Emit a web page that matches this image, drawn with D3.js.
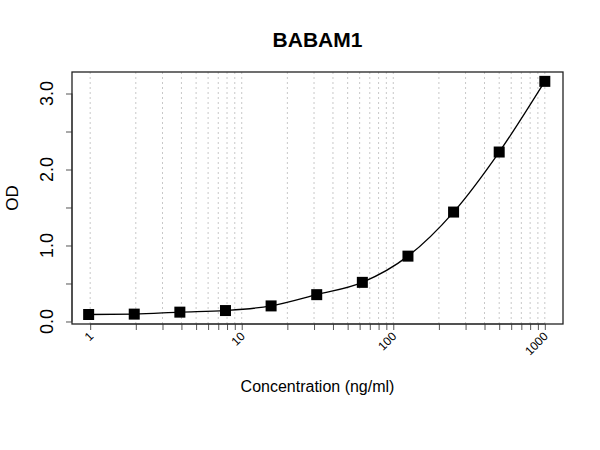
<!DOCTYPE html>
<html lang='en'>
  <head>
    <style type='text/css'>
      body {margin: 0; background-color: #fff;}
      svg text {font-family: 'Liberation Sans', Arial, sans-serif;}
    </style>
  </head>
  <body>
    <svg id='chart' width='600' height='450'></svg>

    <script src='https://d3js.org/d3.v7.min.js'></script>
    <script type='text/javascript'>
        // Standard curve data
        var concentrations = [0.977, 1.953, 3.906, 7.8125, 15.625, 31.25, 62.5, 125, 250, 500, 1000];
        var odValues      = [0.092, 0.097, 0.123, 0.144, 0.205, 0.353, 0.515, 0.86, 1.44, 2.23, 3.16];
        var xLabelTicks   = [1, 10, 100, 1000];
        var yTicks        = [0, 0.5, 1, 1.5, 2, 2.5, 3];
        var yLabelTicks   = [0, 1, 2, 3];

        var svg = d3.select("#chart");
        var margin = {top: 72, right: 37, bottom: 126, left: 72};
        var width  = 600 - margin.left - margin.right;
        var height = 450 - margin.top - margin.bottom;

        var g = svg.append("g")
            .attr("transform", "translate(" + margin.left + "," + margin.top + ")");

        // log x scale, padded like R does (4% each side)
        var x = d3.scaleLog().domain([Math.pow(10, -0.12), Math.pow(10, 3.12)]).range([0, width]);
        var y = d3.scaleLinear().domain([-0.033, 3.283]).range([height, 0]);

        // minor ticks 1..9 per decade
        var minor = [];
        [1, 10, 100, 1000].forEach(function(d) {
          for (var i = 1; i <= 9; i++) {
            if (d * i <= 1000) minor.push(d * i);
          }
        });

        // vertical dotted grid
        g.selectAll(".grid")
          .data(minor)
          .enter().append("line")
            .attr("class", "grid")
            .attr("x1", function(d) { return x(d); })
            .attr("x2", function(d) { return x(d); })
            .attr("y1", 0)
            .attr("y2", height)
            .attr("stroke", "#c8c8c8")
            .attr("stroke-width", 1)
            .attr("stroke-dasharray", "2,3");

        // bottom axis
        var xAxis = g.append("g")
            .attr("transform", "translate(0," + height + ")")
            .call(d3.axisBottom(x).tickValues(minor).tickSize(6).tickFormat(""));
        xAxis.select(".domain").attr("d", "M" + x(1) + ",0H" + x(1000)).attr("stroke", "#555");
        xAxis.selectAll(".tick line").attr("stroke", "#555");

        g.selectAll(".xlab")
          .data(xLabelTicks)
          .enter().append("text")
            .attr("class", "xlab")
            .attr("transform", function(d) { return "translate(" + (x(d) + 4) + "," + (height + 13) + ") rotate(-45)"; })
            .attr("text-anchor", "end")
            .attr("font-size", 12)
            .text(function(d) { return d; });

        // left axis
        var yAxis = g.append("g")
            .call(d3.axisLeft(y).tickValues(yTicks).tickSize(6).tickFormat(""));
        yAxis.select(".domain").attr("d", "M0," + y(0) + "V" + y(3)).attr("stroke", "#555");
        yAxis.selectAll(".tick line").attr("stroke", "#555");

        g.selectAll(".ylab")
          .data(yLabelTicks)
          .enter().append("text")
            .attr("class", "ylab")
            .attr("transform", function(d) { return "translate(-19," + y(d) + ") rotate(-90)"; })
            .attr("text-anchor", "middle")
            .attr("font-size", 18)
            .text(function(d) { return d.toFixed(1); });

        // plot box
        g.append("rect")
            .attr("width", width)
            .attr("height", height)
            .attr("fill", "none")
            .attr("stroke", "#222")
            .attr("stroke-width", 1.3);

        var data = concentrations.map(function(c, i) { return {c: c, od: odValues[i]}; });

        // fitted curve
        var line = d3.line()
            .x(function(d) { return x(d.c); })
            .y(function(d) { return y(d.od); })
            .curve(d3.curveMonotoneX);

        g.append("path")
            .datum(data)
            .attr("d", line)
            .attr("fill", "none")
            .attr("stroke", "#000")
            .attr("stroke-width", 1.3);

        // square markers
        g.selectAll(".pt")
          .data(data)
          .enter().append("rect")
            .attr("class", "pt")
            .attr("x", function(d) { return x(d.c) - 5.5; })
            .attr("y", function(d) { return y(d.od) - 5.5; })
            .attr("width", 11)
            .attr("height", 11)
            .attr("fill", "#000");

        // titles
        svg.append("text")
            .attr("x", margin.left + width / 2)
            .attr("y", 47)
            .attr("text-anchor", "middle")
            .attr("font-size", 21)
            .attr("font-weight", "bold")
            .text("BABAM1");

        svg.append("text")
            .attr("x", margin.left + width / 2)
            .attr("y", 392)
            .attr("text-anchor", "middle")
            .attr("font-size", 16)
            .text("Concentration (ng/ml)");

        svg.append("text")
            .attr("transform", "translate(18," + (margin.top + height / 2) + ") rotate(-90)")
            .attr("text-anchor", "middle")
            .attr("font-size", 17)
            .text("OD");
    </script>
  </body>
</html>
